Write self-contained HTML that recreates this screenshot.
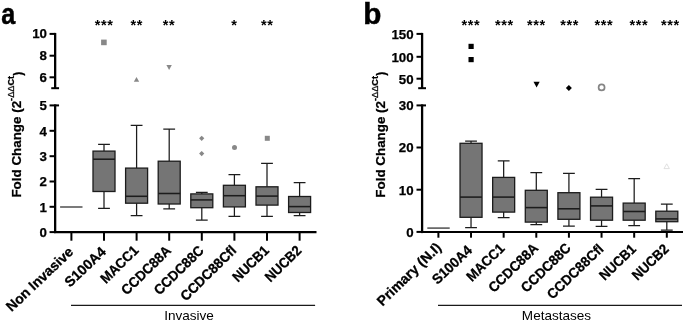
<!DOCTYPE html>
<html><head><meta charset="utf-8"><style>
html,body{margin:0;padding:0;background:#fff;}
svg{display:block;will-change:transform;font-family:"Liberation Sans",sans-serif;}
.tk{font-size:13.3px;font-weight:bold;fill:#000;stroke:#000;stroke-width:0.25px;}
.cat{font-size:14px;font-weight:bold;fill:#000;stroke:#000;stroke-width:0.3px;}
.yt{font-size:13.4px;font-weight:bold;fill:#000;stroke:#000;stroke-width:0.25px;}
.grp{font-size:13.55px;fill:#000;}
.pl{font-size:30px;font-weight:bold;fill:#000;stroke:#000;stroke-width:0.5px;}
.st{font-size:14.5px;letter-spacing:0.55px;font-weight:bold;fill:#000;}
</style></head><body>
<svg width="685" height="322" viewBox="0 0 685 322">
<rect width="685" height="322" fill="#fff"/>
<text transform="translate(1.2,24.0) scale(0.84,1.01)" class="pl">a</text>
<text transform="translate(21.4,197.6) rotate(-90)" class="yt">Fold Change (2<tspan dy="-7.3" font-size="9.2">-</tspan><tspan font-size="9.2" font-weight="normal">ΔΔ</tspan><tspan font-size="9.2">Ct</tspan><tspan dy="7.4" dx="0.2" font-size="12">)</tspan></text>
<path d="M55.15 32.9V88.2" stroke="#000" stroke-width="2.3" fill="none"/>
<path d="M51.25 88.2H59.05" stroke="#000" stroke-width="2"/>
<path d="M49.55 33.9H55.15" stroke="#000" stroke-width="2"/>
<text x="46.95" y="38.20" text-anchor="end" class="tk">10</text>
<path d="M49.55 55.7H55.15" stroke="#000" stroke-width="2"/>
<text x="46.95" y="60.00" text-anchor="end" class="tk">8</text>
<path d="M49.55 77.3H55.15" stroke="#000" stroke-width="2"/>
<text x="46.95" y="81.60" text-anchor="end" class="tk">6</text>
<path d="M55.15 104.4V233.1" stroke="#000" stroke-width="2.3" fill="none"/>
<path d="M55.15 105.4H59.05" stroke="#000" stroke-width="2"/>
<path d="M49.55 105.4H55.15" stroke="#000" stroke-width="2"/>
<text x="46.95" y="110.10" text-anchor="end" class="tk">5</text>
<path d="M49.55 130.8H55.15" stroke="#000" stroke-width="2"/>
<text x="46.95" y="135.50" text-anchor="end" class="tk">4</text>
<path d="M49.55 156.2H55.15" stroke="#000" stroke-width="2"/>
<text x="46.95" y="160.90" text-anchor="end" class="tk">3</text>
<path d="M49.55 181.5H55.15" stroke="#000" stroke-width="2"/>
<text x="46.95" y="186.20" text-anchor="end" class="tk">2</text>
<path d="M49.55 206.8H55.15" stroke="#000" stroke-width="2"/>
<text x="46.95" y="211.50" text-anchor="end" class="tk">1</text>
<path d="M49.55 232.1H55.15" stroke="#000" stroke-width="2"/>
<text x="46.95" y="236.80" text-anchor="end" class="tk">0</text>
<path d="M54.15 232.2H316.5" stroke="#000" stroke-width="2.2"/>
<path d="M71.40 232.2V240.7" stroke="#000" stroke-width="2"/>
<path d="M104.00 232.2V240.7" stroke="#000" stroke-width="2"/>
<path d="M136.60 232.2V240.7" stroke="#000" stroke-width="2"/>
<path d="M169.20 232.2V240.7" stroke="#000" stroke-width="2"/>
<path d="M201.80 232.2V240.7" stroke="#000" stroke-width="2"/>
<path d="M234.40 232.2V240.7" stroke="#000" stroke-width="2"/>
<path d="M267.00 232.2V240.7" stroke="#000" stroke-width="2"/>
<path d="M299.60 232.2V240.7" stroke="#000" stroke-width="2"/>
<path d="M60.1 207H82.5" stroke="#5a5a5a" stroke-width="1.6"/>
<path d="M104.00 144.30V151.10M104.00 191.50V208.40M98.10 144.30H109.90M98.10 208.40H109.90" stroke="#1c1c1c" stroke-width="1.25" fill="none"/>
<rect x="93.00" y="151.10" width="22" height="40.40" fill="#757575" stroke="#1c1c1c" stroke-width="1.3"/>
<path d="M93.00 159.20H115.00" stroke="#1c1c1c" stroke-width="1.55"/>
<path d="M136.60 125.30V168.10M136.60 203.20V215.70M130.70 125.30H142.50M130.70 215.70H142.50" stroke="#1c1c1c" stroke-width="1.25" fill="none"/>
<rect x="125.60" y="168.10" width="22" height="35.10" fill="#757575" stroke="#1c1c1c" stroke-width="1.3"/>
<path d="M125.60 196.30H147.60" stroke="#1c1c1c" stroke-width="1.55"/>
<path d="M169.20 129.00V161.20M169.20 204.00V208.80M163.30 129.00H175.10M163.30 208.80H175.10" stroke="#1c1c1c" stroke-width="1.25" fill="none"/>
<rect x="158.20" y="161.20" width="22" height="42.80" fill="#757575" stroke="#1c1c1c" stroke-width="1.3"/>
<path d="M158.20 193.50H180.20" stroke="#1c1c1c" stroke-width="1.55"/>
<path d="M201.80 192.40V193.90M201.80 207.70V220.00M195.90 192.40H207.70M195.90 220.00H207.70" stroke="#1c1c1c" stroke-width="1.25" fill="none"/>
<rect x="190.80" y="193.90" width="22" height="13.80" fill="#757575" stroke="#1c1c1c" stroke-width="1.3"/>
<path d="M190.80 199.90H212.80" stroke="#1c1c1c" stroke-width="1.55"/>
<path d="M234.40 174.50V185.30M234.40 206.90V216.30M228.50 174.50H240.30M228.50 216.30H240.30" stroke="#1c1c1c" stroke-width="1.25" fill="none"/>
<rect x="223.40" y="185.30" width="22" height="21.60" fill="#757575" stroke="#1c1c1c" stroke-width="1.3"/>
<path d="M223.40 195.70H245.40" stroke="#1c1c1c" stroke-width="1.55"/>
<path d="M267.00 163.30V186.80M267.00 205.10V216.30M261.10 163.30H272.90M261.10 216.30H272.90" stroke="#1c1c1c" stroke-width="1.25" fill="none"/>
<rect x="256.00" y="186.80" width="22" height="18.30" fill="#757575" stroke="#1c1c1c" stroke-width="1.3"/>
<path d="M256.00 196.10H278.00" stroke="#1c1c1c" stroke-width="1.55"/>
<path d="M299.60 182.70V196.50M299.60 212.50V215.50M293.70 182.70H305.50M293.70 215.50H305.50" stroke="#1c1c1c" stroke-width="1.25" fill="none"/>
<rect x="288.60" y="196.50" width="22" height="16.00" fill="#757575" stroke="#1c1c1c" stroke-width="1.3"/>
<path d="M288.60 206.60H310.60" stroke="#1c1c1c" stroke-width="1.55"/>
<rect x="101.1" y="39.6" width="5.6" height="5.6" fill="#888"/>
<path d="M133.8 81.8H139.2L136.5 77Z" fill="#888"/>
<path d="M166.4 65H171.8L169.1 69.9Z" fill="#888"/>
<path d="M199.1 138.3L201.7 135.70000000000002L204.29999999999998 138.3L201.7 140.9Z" fill="#888"/>
<path d="M199.1 153.6L201.7 151.0L204.29999999999998 153.6L201.7 156.2Z" fill="#888"/>
<circle cx="234.5" cy="147.6" r="2.5" fill="#888"/>
<rect x="264.8" y="135.8" width="5" height="5" fill="#888"/>
<text x="104.1" y="30.1" text-anchor="middle" class="st">***</text>
<text x="136.7" y="30.1" text-anchor="middle" class="st">**</text>
<text x="168.9" y="30.1" text-anchor="middle" class="st">**</text>
<text x="234.4" y="30.1" text-anchor="middle" class="st">*</text>
<text x="267.2" y="30.1" text-anchor="middle" class="st">**</text>
<text transform="translate(74.20,252.90) rotate(-43.5)" text-anchor="end" class="cat">Non Invasive</text>
<text transform="translate(106.80,252.90) rotate(-43.5)" text-anchor="end" class="cat">S100A4</text>
<text transform="translate(139.40,251.40) rotate(-44.5)" text-anchor="end" class="cat" textLength="46.97" lengthAdjust="spacingAndGlyphs">MACC1</text>
<text transform="translate(172.00,251.40) rotate(-44.5)" text-anchor="end" class="cat" textLength="63.31" lengthAdjust="spacingAndGlyphs">CCDC88A</text>
<text transform="translate(204.60,251.40) rotate(-44.5)" text-anchor="end" class="cat" textLength="63.31" lengthAdjust="spacingAndGlyphs">CCDC88C</text>
<text transform="translate(237.20,251.40) rotate(-44.5)" text-anchor="end" class="cat" textLength="71.86" lengthAdjust="spacingAndGlyphs">CCDC88Cfl</text>
<text transform="translate(269.80,251.40) rotate(-44.5)" text-anchor="end" class="cat" textLength="44.62" lengthAdjust="spacingAndGlyphs">NUCB1</text>
<text transform="translate(302.40,251.40) rotate(-44.5)" text-anchor="end" class="cat" textLength="44.62" lengthAdjust="spacingAndGlyphs">NUCB2</text>
<path d="M71 305.4H315.1" stroke="#1a1a1a" stroke-width="1.2"/>
<text x="189" y="319.6" text-anchor="middle" class="grp">Invasive</text>
<text transform="translate(363.3,24.0) scale(0.99,1.01)" class="pl">b</text>
<text transform="translate(385.0,197.7) rotate(-90)" class="yt">Fold Change (2<tspan dy="-7.3" font-size="9.2">-</tspan><tspan font-size="9.2" font-weight="normal">ΔΔ</tspan><tspan font-size="9.2">Ct</tspan><tspan dy="7.4" dx="0.2" font-size="12">)</tspan></text>
<path d="M422.1 32.9V88.2" stroke="#000" stroke-width="2.3" fill="none"/>
<path d="M418.20000000000005 88.2H426.0" stroke="#000" stroke-width="2"/>
<path d="M416.5 33.9H422.1" stroke="#000" stroke-width="2"/>
<text x="413.6" y="39.10" text-anchor="end" class="tk">150</text>
<path d="M416.5 56.8H422.1" stroke="#000" stroke-width="2"/>
<text x="413.6" y="62.00" text-anchor="end" class="tk">100</text>
<path d="M416.5 78.7H422.1" stroke="#000" stroke-width="2"/>
<text x="413.6" y="83.90" text-anchor="end" class="tk">50</text>
<path d="M422.1 104.4V233.1" stroke="#000" stroke-width="2.3" fill="none"/>
<path d="M422.1 105.4H426.0" stroke="#000" stroke-width="2"/>
<path d="M416.5 105.4H422.1" stroke="#000" stroke-width="2"/>
<text x="413.6" y="110.20" text-anchor="end" class="tk">30</text>
<path d="M416.5 147.5H422.1" stroke="#000" stroke-width="2"/>
<text x="413.6" y="152.30" text-anchor="end" class="tk">20</text>
<path d="M416.5 189.7H422.1" stroke="#000" stroke-width="2"/>
<text x="413.6" y="194.50" text-anchor="end" class="tk">10</text>
<path d="M416.5 231.9H422.1" stroke="#000" stroke-width="2"/>
<text x="413.6" y="236.70" text-anchor="end" class="tk">0</text>
<path d="M421.1 232.0H683" stroke="#000" stroke-width="2.2"/>
<path d="M438.40 232.0V237.7" stroke="#000" stroke-width="2"/>
<path d="M471.03 232.0V237.7" stroke="#000" stroke-width="2"/>
<path d="M503.66 232.0V237.7" stroke="#000" stroke-width="2"/>
<path d="M536.29 232.0V237.7" stroke="#000" stroke-width="2"/>
<path d="M568.92 232.0V237.7" stroke="#000" stroke-width="2"/>
<path d="M601.55 232.0V237.7" stroke="#000" stroke-width="2"/>
<path d="M634.18 232.0V237.7" stroke="#000" stroke-width="2"/>
<path d="M666.81 232.0V237.7" stroke="#000" stroke-width="2"/>
<path d="M427.3 228.1H449.7" stroke="#5a5a5a" stroke-width="1.6"/>
<path d="M471.03 141.20V143.30M471.03 217.30V227.60M465.13 141.20H476.93M465.13 227.60H476.93" stroke="#1c1c1c" stroke-width="1.25" fill="none"/>
<rect x="460.03" y="143.30" width="22" height="74.00" fill="#757575" stroke="#1c1c1c" stroke-width="1.3"/>
<path d="M460.03 197.10H482.03" stroke="#1c1c1c" stroke-width="1.55"/>
<path d="M503.66 160.80V177.40M503.66 212.10V217.70M497.76 160.80H509.56M497.76 217.70H509.56" stroke="#1c1c1c" stroke-width="1.25" fill="none"/>
<rect x="492.66" y="177.40" width="22" height="34.70" fill="#757575" stroke="#1c1c1c" stroke-width="1.3"/>
<path d="M492.66 197.10H514.66" stroke="#1c1c1c" stroke-width="1.55"/>
<path d="M536.29 172.50V190.30M536.29 222.10V224.60M530.39 172.50H542.19M530.39 224.60H542.19" stroke="#1c1c1c" stroke-width="1.25" fill="none"/>
<rect x="525.29" y="190.30" width="22" height="31.80" fill="#757575" stroke="#1c1c1c" stroke-width="1.3"/>
<path d="M525.29 207.60H547.29" stroke="#1c1c1c" stroke-width="1.55"/>
<path d="M568.92 173.30V192.70M568.92 219.30V226.20M563.02 173.30H574.82M563.02 226.20H574.82" stroke="#1c1c1c" stroke-width="1.25" fill="none"/>
<rect x="557.92" y="192.70" width="22" height="26.60" fill="#757575" stroke="#1c1c1c" stroke-width="1.3"/>
<path d="M557.92 208.80H579.92" stroke="#1c1c1c" stroke-width="1.55"/>
<path d="M601.55 189.40V197.20M601.55 220.20V226.40M595.65 189.40H607.45M595.65 226.40H607.45" stroke="#1c1c1c" stroke-width="1.25" fill="none"/>
<rect x="590.55" y="197.20" width="22" height="23.00" fill="#757575" stroke="#1c1c1c" stroke-width="1.3"/>
<path d="M590.55 205.90H612.55" stroke="#1c1c1c" stroke-width="1.55"/>
<path d="M634.18 178.60V203.10M634.18 220.20V225.50M628.28 178.60H640.08M628.28 225.50H640.08" stroke="#1c1c1c" stroke-width="1.25" fill="none"/>
<rect x="623.18" y="203.10" width="22" height="17.10" fill="#757575" stroke="#1c1c1c" stroke-width="1.3"/>
<path d="M623.18 211.50H645.18" stroke="#1c1c1c" stroke-width="1.55"/>
<path d="M666.81 204.00V211.20M666.81 221.70V230.10M660.91 204.00H672.71M660.91 230.10H672.71" stroke="#1c1c1c" stroke-width="1.25" fill="none"/>
<rect x="655.81" y="211.20" width="22" height="10.50" fill="#757575" stroke="#1c1c1c" stroke-width="1.3"/>
<path d="M655.81 218.90H677.81" stroke="#1c1c1c" stroke-width="1.55"/>
<rect x="468.5" y="43.8" width="5.2" height="5.2" fill="#000"/>
<rect x="468.5" y="57" width="5.2" height="5.2" fill="#000"/>
<path d="M533.5 81.8H539.7L536.6 87.6Z" fill="#000"/>
<path d="M565.9 87.9L568.9 84.9L571.9 87.9L568.9 90.9Z" fill="#000"/>
<circle cx="601.6" cy="87.4" r="3.0" fill="none" stroke="#858585" stroke-width="1.7"/>
<path d="M664 168.6H669.4L666.7 163.8Z" fill="none" stroke="#dcdcdc" stroke-width="0.9"/>
<text x="470.9" y="30.1" text-anchor="middle" class="st">***</text>
<text x="504.4" y="30.1" text-anchor="middle" class="st">***</text>
<text x="536.4" y="30.1" text-anchor="middle" class="st">***</text>
<text x="569.6" y="30.1" text-anchor="middle" class="st">***</text>
<text x="603.9" y="30.1" text-anchor="middle" class="st">***</text>
<text x="638.9" y="30.1" text-anchor="middle" class="st">***</text>
<text x="670.3" y="30.1" text-anchor="middle" class="st">***</text>
<text transform="translate(442.10,248.50) rotate(-44.3)" text-anchor="end" class="cat">Primary (N.I)</text>
<text transform="translate(473.03,251.30) rotate(-43.5)" text-anchor="end" class="cat" textLength="49.08" lengthAdjust="spacingAndGlyphs">S100A4</text>
<text transform="translate(505.46,249.30) rotate(-44.5)" text-anchor="end" class="cat" textLength="46.97" lengthAdjust="spacingAndGlyphs">MACC1</text>
<text transform="translate(539.09,248.90) rotate(-44.5)" text-anchor="end" class="cat" textLength="63.31" lengthAdjust="spacingAndGlyphs">CCDC88A</text>
<text transform="translate(571.72,248.90) rotate(-44.5)" text-anchor="end" class="cat" textLength="63.31" lengthAdjust="spacingAndGlyphs">CCDC88C</text>
<text transform="translate(604.35,250.10) rotate(-43.9)" text-anchor="end" class="cat" textLength="71.86" lengthAdjust="spacingAndGlyphs">CCDC88Cfl</text>
<text transform="translate(636.98,250.10) rotate(-43.9)" text-anchor="end" class="cat" textLength="44.62" lengthAdjust="spacingAndGlyphs">NUCB1</text>
<text transform="translate(669.61,250.10) rotate(-43.9)" text-anchor="end" class="cat" textLength="44.62" lengthAdjust="spacingAndGlyphs">NUCB2</text>
<path d="M438 305.4H682" stroke="#1a1a1a" stroke-width="1.2"/>
<text x="556.5" y="319.6" text-anchor="middle" class="grp">Metastases</text>
</svg></body></html>
